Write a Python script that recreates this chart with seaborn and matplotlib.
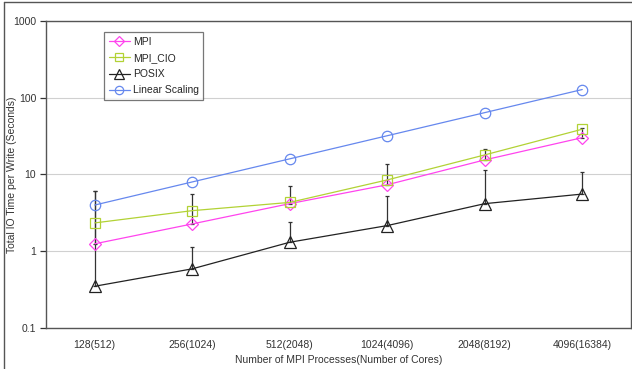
import numpy as np
import pandas as pd
import matplotlib
matplotlib.use("Agg")
import matplotlib.pyplot as plt
from matplotlib.lines import Line2D
import seaborn as sns

categories = ["128(512)", "256(1024)", "512(2048)", "1024(4096)", "2048(8192)", "4096(16384)"]
mpi = [1.25, 2.27, 4.17, 7.35, 15.5, 30.2]
mpi_cio = [2.34, 3.38, 4.33, 8.5, 18.0, 38.9]
posix = [0.35, 0.59, 1.31, 2.16, 4.17, 5.56]
linear = [4, 8, 16, 32, 64, 128]
mpi_err_hi = [6.1, 5.6, 7.1, 13.6, 21.6, 40.0]
posix_err_hi = [6.1, 1.15, 2.38, 5.2, 11.5, 10.9]
y_ticks = [0.1, 1, 10, 100, 1000]
y_tick_labels = ["0.1", "1", "10", "100", "1000"]

sns.set_style("white")
plt.rcParams['font.family'] = ['Liberation Sans', 'DejaVu Sans']

W, H = 632, 369
fig = plt.figure(figsize=(W / 100, H / 100), dpi=100)
ax = fig.add_axes([46 / W, 1 - 328 / H, (631 - 46) / W, (328 - 21) / H])

pos = np.arange(len(categories))
series = {
    "MPI": (mpi, "#FF44EE", "D", 6.0),
    "MPI_CIO": (mpi_cio, "#B2D235", "s", 7.5),
    "POSIX": (posix, "#222222", "^", 8.5),
    "Linear Scaling": (linear, "#6688EE", "o", 7.5),
}

# error bars (drawn beneath markers)
for vals, hi in ((posix, posix_err_hi), (mpi, mpi_err_hi)):
    v = np.array(vals)
    h = np.array(hi)
    ax.errorbar(pos, v, yerr=[np.zeros_like(v), h - v], fmt="none",
                ecolor="#333333", elinewidth=0.9, capsize=1.6, capthick=0.9, zorder=2)

frames = []
for name, (vals, col, mk, ms) in series.items():
    frames.append(pd.DataFrame({"x": pos, "y": vals, "series": name}))
df = pd.concat(frames, ignore_index=True)

for name, (vals, col, mk, ms) in series.items():
    sub = df[df["series"] == name]
    sns.lineplot(data=sub, x="x", y="y", ax=ax, color=col, linewidth=0.9,
                 marker=mk, markersize=ms, markerfacecolor="none",
                 markeredgecolor=col, markeredgewidth=0.9, zorder=3, legend=False)

ax.set_yscale("log")
ax.set_ylim(0.1, 1000)
ax.set_xlim(-0.5, len(categories) - 0.5)
ax.set_yticks(y_ticks)
ax.set_yticklabels(y_tick_labels)
ax.yaxis.set_minor_locator(matplotlib.ticker.NullLocator())
ax.set_xticks(pos)
ax.set_xticklabels(categories)
ax.set_xticks(np.arange(-0.5, len(categories)), minor=True)
ax.tick_params(axis="x", which="major", length=0, labelsize=7.5, pad=9, colors="#333333")
ax.tick_params(axis="x", which="minor", length=6, direction="inout", width=0.9, color="#444444")
ax.tick_params(axis="y", which="major", length=4, direction="out", width=0.9, labelsize=7.5,
               colors="#333333", left=True, pad=3)
ax.grid(True, axis="y", color="#d0d0d0", linewidth=0.8)
ax.set_axisbelow(True)
for s in ax.spines.values():
    s.set_color("#555555")
    s.set_linewidth(1.0)

ax.set_xlabel("Number of MPI Processes(Number of Cores)", fontsize=7.5, color="#333333", labelpad=3)
ax.set_ylabel("Total IO Time per Write (Seconds)", fontsize=7.5, color="#333333")
ax.yaxis.set_label_coords((17 - 46) / (631 - 46), 0.5)

handles = [Line2D([0], [0], color=c, marker=m, markersize=ms * 0.8, markerfacecolor="none",
                  markeredgecolor=c, linewidth=0.9, markeredgewidth=0.9)
           for (v, c, m, ms) in series.values()]
leg = ax.legend(handles, list(series.keys()), loc="upper left",
                bbox_to_anchor=((104 - 46) / (631 - 46), 1 - (32 - 21) / (328 - 21)),
                fontsize=7.5, frameon=True, fancybox=False, handlelength=2.0,
                handletextpad=0.3, borderpad=0.45, labelspacing=0.6, borderaxespad=0)
leg.get_frame().set_edgecolor("#555555")
leg.get_frame().set_linewidth(0.9)

# outer chart border
fig.add_artist(Line2D([4 / W, 4 / W], [0, 1 - 2 / H], transform=fig.transFigure,
                      color="#555555", linewidth=1.0))
fig.add_artist(Line2D([4 / W, 1], [1 - 2 / H, 1 - 2 / H], transform=fig.transFigure,
                      color="#555555", linewidth=1.0))

fig.savefig("out.png", dpi=100)
